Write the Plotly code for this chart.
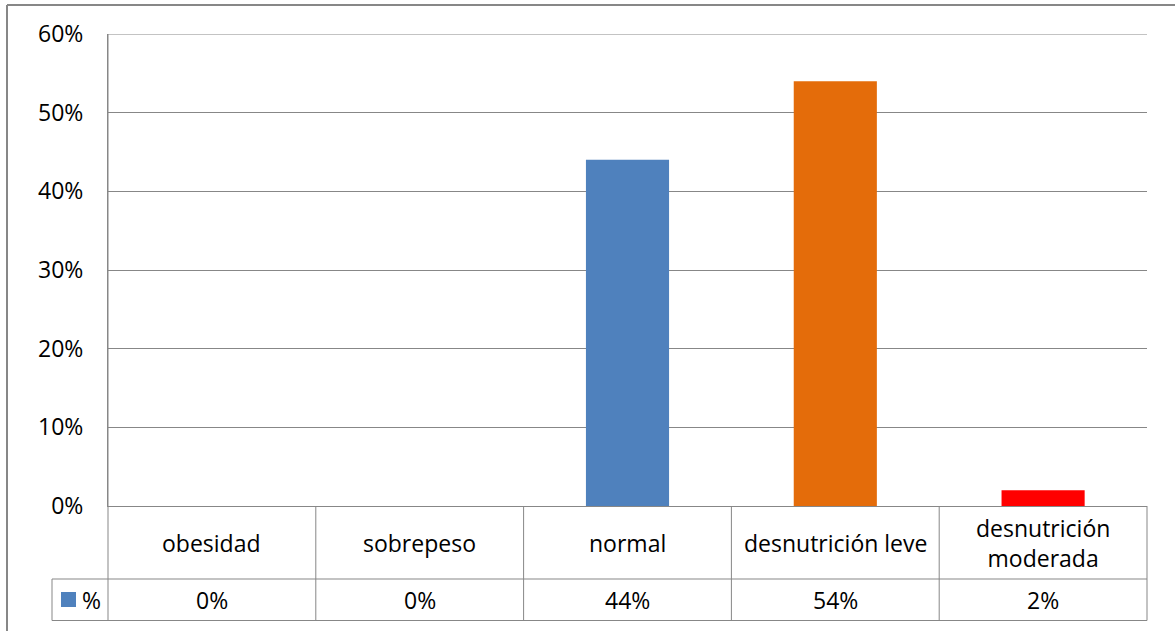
import plotly.graph_objects as go

# Data
categories = ["obesidad", "sobrepeso", "normal", "desnutrición leve", "desnutrición<br>moderada"]
values = [0, 0, 44, 54, 2]
series_name = "%"
y_ticks = [0, 10, 20, 30, 40, 50, 60]
y_tick_labels = ["0%", "10%", "20%", "30%", "40%", "50%", "60%"]

W, H = 1175, 631
FONT = "Open Sans"
FS = 23
GRID = "#878787"
bar_colors = ["#4F81BD", "#4F81BD", "#4F81BD", "#E46C0A", "#FF0000"]

# Pixel layout of the plot area and table
PL, PR, PT, PB = 108, 1147, 34, 506
ROW1, ROW2 = 579, 620.5
LEG_L = 52


def px(x):
    return x / W


def py(y):
    return 1 - y / H


fig = go.Figure()
fig.add_trace(go.Bar(
    x=list(range(len(categories))),
    y=values,
    marker=dict(color=bar_colors, line=dict(width=0)),
    width=0.4,
    name=series_name,
    showlegend=False,
    hoverinfo="skip",
))

shapes = []
line = dict(color=GRID, width=1)

# outer chart border (top and left edges)
shapes.append(dict(type="line", xref="paper", yref="paper", x0=px(7), x1=px(W + 5), y0=py(5), y1=py(5),
                   line=dict(color=GRID, width=2)))
shapes.append(dict(type="line", xref="paper", yref="paper", x0=px(7), x1=px(7), y0=py(5), y1=py(H + 5),
                   line=dict(color=GRID, width=2)))

# gridline at the top of the value range
shapes.append(dict(type="line", xref="x domain", yref="y", x0=0, x1=1, y0=y_ticks[-1], y1=y_ticks[-1],
                   line=line, layer="below"))

# data table grid
shapes.append(dict(type="line", xref="paper", yref="paper", x0=px(PL), x1=px(PL), y0=py(PT), y1=py(ROW2), line=line))
shapes.append(dict(type="line", xref="paper", yref="paper", x0=px(PR), x1=px(PR), y0=py(PB), y1=py(ROW2), line=line))
for yy in (ROW1, ROW2):
    shapes.append(dict(type="line", xref="paper", yref="paper", x0=px(LEG_L), x1=px(PR), y0=py(yy), y1=py(yy), line=line))
shapes.append(dict(type="line", xref="paper", yref="paper", x0=px(LEG_L), x1=px(LEG_L), y0=py(ROW1), y1=py(ROW2), line=line))
for i in range(len(categories) - 1):
    shapes.append(dict(type="line", xref="x", yref="paper", x0=i + 0.5, x1=i + 0.5, y0=py(PB), y1=py(ROW2), line=line))

# legend key
shapes.append(dict(type="rect", xref="paper", yref="paper", x0=px(61), x1=px(76), y0=py(592), y1=py(607),
                   fillcolor=bar_colors[0], line=dict(width=0)))

annotations = []
for i, (c, v) in enumerate(zip(categories, values)):
    annotations.append(dict(x=i, y=py((PB + ROW1) / 2), xref="x", yref="paper", text=c, showarrow=False,
                            xanchor="center", yanchor="middle", font=dict(family=FONT, size=FS, color="black")))
    annotations.append(dict(x=i, y=py((ROW1 + ROW2) / 2), xref="x", yref="paper", text=f"{v}%", showarrow=False,
                            xanchor="center", yanchor="middle", font=dict(family=FONT, size=FS, color="black")))
annotations.append(dict(x=px(92), y=py((ROW1 + ROW2) / 2), xref="paper", yref="paper", text=series_name,
                        showarrow=False, xanchor="center", yanchor="middle",
                        font=dict(family=FONT, size=FS, color="black")))

fig.update_layout(
    width=W, height=H,
    margin=dict(l=0, r=0, t=0, b=0, autoexpand=False),
    paper_bgcolor="white", plot_bgcolor="white",
    font=dict(family=FONT, size=FS, color="black"),
    xaxis=dict(domain=[px(PL), px(PR)], range=[-0.5, len(categories) - 0.5], showticklabels=False,
               showgrid=False, zeroline=False, showline=True, linecolor=GRID, linewidth=1,
               fixedrange=True, automargin=False),
    yaxis=dict(domain=[py(PB), py(PT)], range=[0, 60], tickmode="array", tickvals=y_ticks,
               ticktext=y_tick_labels, showgrid=True, gridcolor=GRID, gridwidth=1, zeroline=False,
               showline=True, linecolor=GRID, linewidth=1, ticks="", ticklabelstandoff=19,
               fixedrange=True, automargin=False,
               tickfont=dict(family=FONT, size=FS, color="black")),
    shapes=shapes,
    annotations=annotations,
)

fig.write_html("out.html")
